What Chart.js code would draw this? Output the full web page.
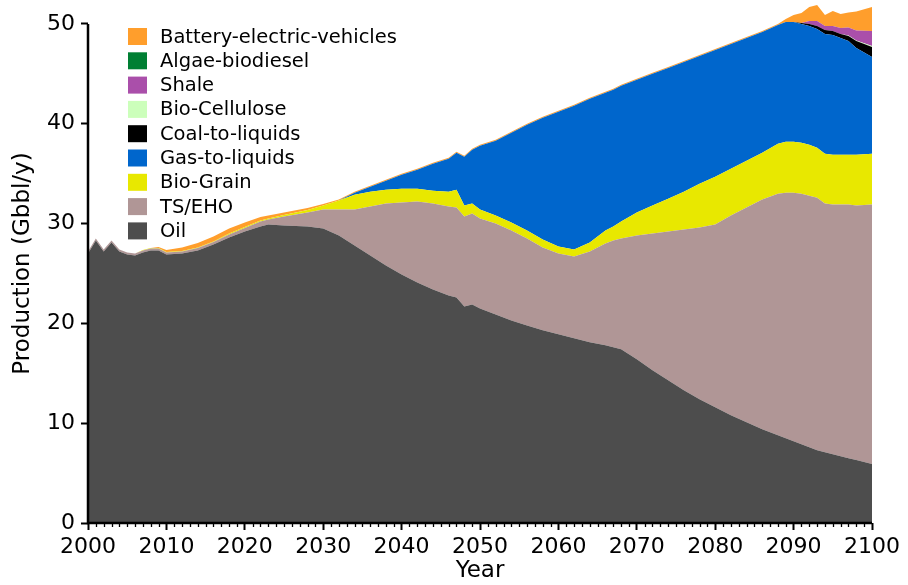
<!DOCTYPE html>
<html>
<head>
<meta charset="utf-8">
<script src="https://cdn.jsdelivr.net/npm/chart.js@4.4.0/dist/chart.umd.min.js"></script>
<style>
  html, body { margin: 0; padding: 0; background: #fff; }
  #wrap { width: 908px; height: 585px; }
</style>
</head>
<body>
<div id="wrap"><canvas id="chart" width="908" height="585"></canvas></div>
<script>
// Years sampled (x values)
const years = [2000, 2001, 2002, 2003, 2004, 2005, 2006, 2007, 2008, 2009, 2010,
  2012, 2014, 2016, 2018, 2020,
  2022, 2023, 2025, 2028, 2030,
  2032, 2034, 2036, 2038, 2040, 2042, 2044, 2046,
  2047, 2048, 2049, 2050,
  2052, 2054, 2056, 2058, 2060, 2062, 2064, 2066,
  2067, 2068,
  2070, 2072, 2074, 2076, 2078, 2080, 2082, 2084, 2086, 2088,
  2089, 2090, 2091, 2092, 2093, 2094, 2095, 2096, 2097, 2098,
  2100];

// Production per source, Gbbl/y (stack order: bottom to top)
const oil = [27.0, 28.3, 27.2, 28.1, 27.2, 26.9, 26.8, 27.1, 27.3, 27.3, 26.9,
  27.0, 27.3, 27.9, 28.6, 29.2,
  29.7, 29.9, 29.8, 29.7, 29.5,
  28.8, 27.8, 26.8, 25.8, 24.9, 24.1, 23.4, 22.8,
  22.6, 21.7, 21.9, 21.5,
  20.9, 20.3, 19.8, 19.3, 18.9, 18.5, 18.1, 17.8,
  17.6, 17.4,
  16.4, 15.3, 14.3, 13.3, 12.4, 11.6, 10.8, 10.1, 9.4, 8.8,
  8.5, 8.2, 7.9, 7.6, 7.3, 7.1, 6.9, 6.7, 6.5, 6.3,
  5.9];
const tsEho = [0.2, 0.2, 0.2, 0.2, 0.2, 0.2, 0.2, 0.2, 0.2, 0.2, 0.2,
  0.2, 0.25, 0.25, 0.3, 0.35,
  0.5, 0.5, 0.9, 1.4, 1.9,
  2.6, 3.6, 4.9, 6.2, 7.2, 8.1, 8.6, 8.9,
  9.0, 9.0, 9.1, 9.0,
  9.1, 9.0, 8.7, 8.3, 8.1, 8.2, 9.1, 10.2,
  10.7, 11.1,
  12.4, 13.7, 14.9, 16.1, 17.2, 18.3, 20.0, 21.5, 23.0, 24.2,
  24.6, 24.9, 25.1, 25.2, 25.3, 24.9, 25.0, 25.2, 25.4, 25.5,
  26.0];
const bioGrain = [0, 0, 0, 0, 0, 0, 0, 0.05, 0.05, 0.05, 0.05,
  0.05, 0.05, 0.05, 0.1, 0.1,
  0.1, 0.1, 0.15, 0.25, 0.4,
  0.9, 1.5, 1.5, 1.4, 1.4, 1.3, 1.3, 1.5,
  1.8, 1.1, 1.0, 0.9,
  0.8, 0.8, 0.8, 0.8, 0.7, 0.7, 0.9, 1.3,
  1.4, 1.7,
  2.3, 2.8, 3.3, 3.8, 4.4, 4.8, 4.7, 4.7, 4.7, 5.0,
  5.1, 5.1, 5.1, 5.1, 5.0, 5.0, 5.0, 5.0, 5.0, 5.1,
  5.1];
const gasToLiquids = [0, 0, 0, 0, 0, 0, 0, 0, 0, 0, 0,
  0, 0, 0, 0, 0,
  0, 0, 0, 0, 0,
  0, 0.2, 0.5, 0.9, 1.4, 1.9, 2.7, 3.3,
  3.7, 4.9, 5.4, 6.4,
  7.5, 9.0, 10.6, 12.2, 13.5, 14.4, 14.4, 13.8,
  13.7, 13.6,
  13.3, 13.2, 13.1, 13.0, 12.8, 12.7, 12.5, 12.3, 12.1, 11.9,
  12.0, 12.0, 11.9, 11.9, 11.9, 12.0, 12.0, 11.7, 11.4, 10.7,
  9.7];
const coalToLiquids = [0, 0, 0, 0, 0, 0, 0, 0, 0, 0, 0,
  0, 0, 0, 0, 0,
  0, 0, 0, 0, 0,
  0, 0, 0, 0, 0, 0, 0, 0,
  0, 0, 0, 0,
  0, 0, 0, 0, 0, 0, 0, 0,
  0, 0,
  0, 0, 0, 0, 0, 0, 0, 0, 0, 0,
  0, 0, 0.1, 0.2, 0.3, 0.4, 0.4, 0.4, 0.5, 0.7,
  1.0];
const bioCellulose = [0, 0, 0, 0, 0, 0, 0, 0, 0, 0, 0,
  0, 0, 0, 0, 0,
  0, 0, 0, 0, 0,
  0, 0, 0, 0, 0, 0, 0, 0,
  0, 0, 0, 0,
  0, 0, 0, 0, 0, 0, 0, 0,
  0, 0,
  0, 0, 0, 0, 0, 0, 0, 0, 0, 0,
  0, 0, 0, 0, 0, 0, 0, 0, 0.05, 0.05,
  0.1];
const shale = [0, 0, 0, 0, 0, 0, 0, 0, 0, 0, 0,
  0, 0, 0, 0, 0,
  0, 0, 0, 0, 0,
  0, 0, 0, 0, 0, 0, 0, 0,
  0, 0, 0, 0,
  0, 0, 0, 0, 0, 0, 0, 0,
  0, 0,
  0, 0, 0, 0, 0, 0, 0, 0, 0, 0,
  0, 0, 0, 0.3, 0.5, 0.4, 0.5, 0.6, 0.8, 1.0,
  1.5];
const algaeBiodiesel = [0, 0, 0, 0, 0, 0, 0, 0, 0, 0, 0,
  0, 0, 0, 0, 0,
  0, 0, 0, 0, 0,
  0, 0, 0, 0, 0, 0, 0, 0,
  0, 0, 0, 0,
  0, 0, 0, 0, 0, 0, 0, 0,
  0, 0,
  0, 0, 0, 0, 0, 0, 0, 0, 0, 0,
  0, 0, 0, 0, 0, 0, 0, 0, 0, 0,
  0];
const batteryElectric = [0, 0, 0, 0, 0, 0, 0, 0, 0, 0.1, 0.2,
  0.35, 0.45, 0.5, 0.5, 0.45,
  0.35, 0.3, 0.25, 0.2, 0.15,
  0.1, 0.1, 0.1, 0.1, 0.1, 0.1, 0.1, 0.1,
  0.1, 0.1, 0.1, 0.1,
  0.1, 0.1, 0.1, 0.1, 0.1, 0.1, 0.1, 0.1,
  0.1, 0.1,
  0.1, 0.1, 0.1, 0.1, 0.1, 0.1, 0.1, 0.1, 0.1, 0.1,
  0.3, 0.7, 1.0, 1.4, 1.6, 1.1, 1.5, 1.4, 1.5, 1.9,
  2.4];

const seriesLabels = ["Oil", "TS/EHO", "Bio-Grain", "Gas-to-liquids", "Coal-to-liquids",
  "Bio-Cellulose", "Shale", "Algae-biodiesel", "Battery-electric-vehicles"];
const seriesValues = [oil, tsEho, bioGrain, gasToLiquids, coalToLiquids,
  bioCellulose, shale, algaeBiodiesel, batteryElectric];
const seriesColors = ["#4d4d4d", "#b09696", "#e8e800", "#0066cc", "#000000",
  "#ccffbb", "#aa4faa", "#007f33", "#ff9e2c"];

const yTicks = [0, 10, 20, 30, 40, 50];
const FONT = '"DejaVu Sans", "Liberation Sans", sans-serif';

const datasets = seriesLabels.map((label, i) => ({
  label,
  data: years.map((yr, j) => ({ x: yr, y: seriesValues[i][j] })),
  backgroundColor: seriesColors[i],
  borderColor: "rgba(0,0,0,0)",
  borderWidth: 0,
  pointRadius: 0,
  pointHoverRadius: 0,
  tension: 0,
  fill: i === 0 ? "origin" : "-1"
}));

// Legend in the upper left of the plot, top entry first
const boxLegend = {
  id: "boxLegend",
  afterDraw(chart) {
    const ctx = chart.ctx;
    ctx.save();
    ctx.font = "19.5px " + FONT;
    ctx.textBaseline = "middle";
    const items = chart.data.datasets.slice().reverse();
    items.forEach((ds, i) => {
      const cy = 36.5 + i * 24.3;
      ctx.fillStyle = ds.backgroundColor;
      ctx.fillRect(128, cy - 8.5, 19, 17);
      ctx.fillStyle = "#000";
      ctx.fillText(ds.label, 160, cy + 1);
    });
    ctx.restore();
  }
};

// Left and bottom spines, plus yearly minor ticks
const spines = {
  id: "spines",
  afterDatasetsDraw(chart) {
    const { ctx, scales: { x, y } } = chart;
    const y0 = y.getPixelForValue(0);
    const yTop = y.getPixelForValue(50);
    ctx.save();
    ctx.strokeStyle = "#000";
    ctx.lineWidth = 2.5;
    ctx.beginPath();
    ctx.moveTo(x.left, yTop);
    ctx.lineTo(x.left, y0);
    ctx.lineTo(x.right, y0);
    ctx.stroke();
    ctx.lineWidth = 1.3;
    ctx.beginPath();
    for (let yr = 2001; yr < 2100; yr++) {
      if (yr % 10 === 0) continue;
      const px = Math.round(x.getPixelForValue(yr)) + 0.5;
      ctx.moveTo(px, y0);
      ctx.lineTo(px, y0 + 4);
    }
    ctx.stroke();
    ctx.restore();
  }
};

new Chart(document.getElementById("chart"), {
  type: "line",
  data: { datasets },
  plugins: [spines, boxLegend],
  options: {
    responsive: false,
    animation: false,
    devicePixelRatio: 1,
    layout: { padding: { left: 0, right: 36, top: 4, bottom: 0 } },
    plugins: {
      legend: { display: false },
      tooltip: { enabled: false },
      filler: { propagate: false }
    },
    scales: {
      x: {
        type: "linear",
        min: 2000,
        max: 2100,
        afterFit: (s) => { s.height = 62; s.paddingLeft = 0; s.paddingRight = 0; },
        border: { display: false },
        grid: { drawOnChartArea: false, drawTicks: true, tickLength: 7, tickWidth: 2, tickColor: "#000" },
        ticks: { stepSize: 10, color: "#000", font: { family: FONT, size: 22 }, padding: 4,
          callback: (v) => String(v) },
        title: { display: true, text: "Year", color: "#000", font: { family: FONT, size: 23 }, padding: { top: -4, bottom: 0 } }
      },
      y: {
        type: "linear",
        stacked: true,
        min: 0,
        max: 52,
        afterFit: (s) => { s.width = 88; s.paddingTop = 0; s.paddingBottom = 0; },
        afterBuildTicks: (s) => { s.ticks = yTicks.map(v => ({ value: v })); },
        border: { display: false },
        grid: { drawOnChartArea: false, drawTicks: true, tickLength: 7, tickWidth: 2, tickColor: "#000" },
        ticks: { color: "#000", font: { family: FONT, size: 22 }, padding: 6 },
        title: { display: true, text: "Production (Gbbl/y)", color: "#000", font: { family: FONT, size: 23 }, padding: { top: 9, bottom: 0 } }
      }
    }
  }
});
</script>
</body>
</html>
